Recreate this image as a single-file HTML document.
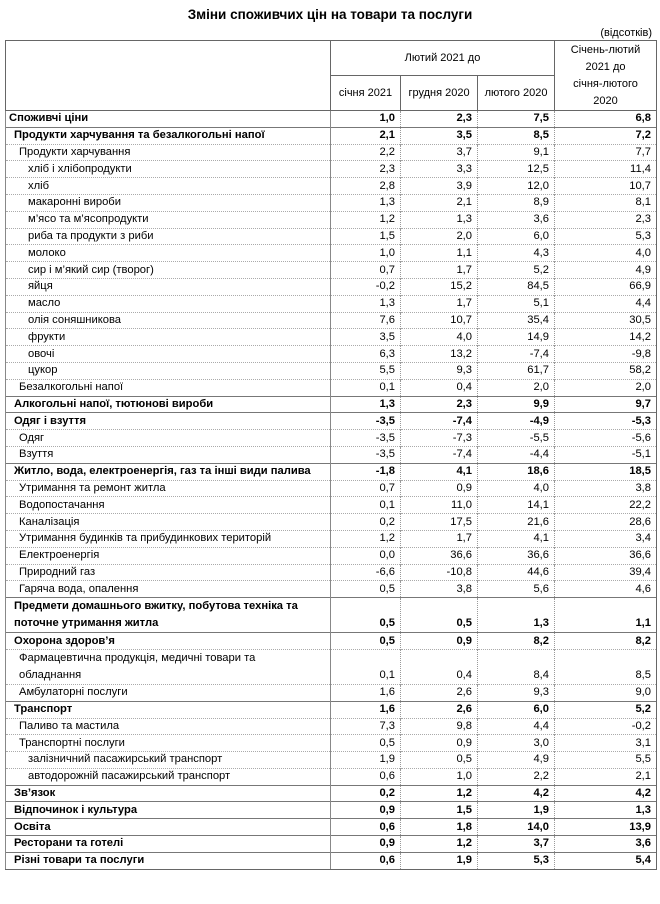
<!DOCTYPE html>
<html><head><meta charset="utf-8"><style>
body{margin:0;background:#fff;width:660px;height:904px;font-family:"Liberation Sans",sans-serif;color:#000;position:relative}
.t{position:absolute;top:7px;left:0;width:660px;text-align:center;font-weight:bold;font-size:13.5px}
.u{position:absolute;top:27px;right:8px;font-size:11px}
table{position:absolute;left:5px;top:40px;border-collapse:collapse;table-layout:fixed;width:651px;font-size:11.2px}
td{padding:0;height:15.8px;line-height:15px;border-left:1px solid #888;border-right:1px solid #888;border-top:1px dotted #aaa;white-space:nowrap;overflow:hidden}
td.n{text-align:right;padding-right:5px;border-left:1px dotted #999;border-right:1px dotted #999}
td.n:last-child{border-right:1px solid #666}
tr.b td{font-weight:bold;border-top:1px solid #777}
tr.d td{height:32.6px;vertical-align:bottom;white-space:nowrap;line-height:17px}
.l0{padding-left:3px}.l1{padding-left:8px}.l2{padding-left:13px}.l3{padding-left:22px}
th{font-weight:normal;border:1px solid #666;text-align:center;line-height:17px;padding:0;font-size:11px}
tr:last-child td{border-bottom:1px solid #666}
</style></head><body>
<div class="t">Зміни споживчих цін на товари та послуги</div>
<div class="u">(відсотків)</div>
<table>
<colgroup><col style="width:325px"><col style="width:70px"><col style="width:77px"><col style="width:77px"><col style="width:102px"></colgroup>
<tr><th rowspan="2" style="height:68px"></th><th colspan="3" style="height:34px">Лютий 2021 до</th><th rowspan="2">Січень-лютий<br>2021 до<br>січня-лютого<br>2020</th></tr>
<tr><th style="height:34px">січня 2021</th><th>грудня 2020</th><th>лютого 2020</th></tr>
<tr class="b"><td class="l0">Споживчі ціни</td><td class="n">1,0</td><td class="n">2,3</td><td class="n">7,5</td><td class="n">6,8</td></tr>
<tr class="b"><td class="l1">Продукти харчування та безалкогольні напої</td><td class="n">2,1</td><td class="n">3,5</td><td class="n">8,5</td><td class="n">7,2</td></tr>
<tr><td class="l2">Продукти харчування</td><td class="n">2,2</td><td class="n">3,7</td><td class="n">9,1</td><td class="n">7,7</td></tr>
<tr><td class="l3">хліб і хлібопродукти</td><td class="n">2,3</td><td class="n">3,3</td><td class="n">12,5</td><td class="n">11,4</td></tr>
<tr><td class="l3">хліб</td><td class="n">2,8</td><td class="n">3,9</td><td class="n">12,0</td><td class="n">10,7</td></tr>
<tr><td class="l3">макаронні вироби</td><td class="n">1,3</td><td class="n">2,1</td><td class="n">8,9</td><td class="n">8,1</td></tr>
<tr><td class="l3">м’ясо та м’ясопродукти</td><td class="n">1,2</td><td class="n">1,3</td><td class="n">3,6</td><td class="n">2,3</td></tr>
<tr><td class="l3">риба та продукти з риби</td><td class="n">1,5</td><td class="n">2,0</td><td class="n">6,0</td><td class="n">5,3</td></tr>
<tr><td class="l3">молоко</td><td class="n">1,0</td><td class="n">1,1</td><td class="n">4,3</td><td class="n">4,0</td></tr>
<tr><td class="l3">сир і м’який сир (творог)</td><td class="n">0,7</td><td class="n">1,7</td><td class="n">5,2</td><td class="n">4,9</td></tr>
<tr><td class="l3">яйця</td><td class="n">-0,2</td><td class="n">15,2</td><td class="n">84,5</td><td class="n">66,9</td></tr>
<tr><td class="l3">масло</td><td class="n">1,3</td><td class="n">1,7</td><td class="n">5,1</td><td class="n">4,4</td></tr>
<tr><td class="l3">олія соняшникова</td><td class="n">7,6</td><td class="n">10,7</td><td class="n">35,4</td><td class="n">30,5</td></tr>
<tr><td class="l3">фрукти</td><td class="n">3,5</td><td class="n">4,0</td><td class="n">14,9</td><td class="n">14,2</td></tr>
<tr><td class="l3">овочі</td><td class="n">6,3</td><td class="n">13,2</td><td class="n">-7,4</td><td class="n">-9,8</td></tr>
<tr><td class="l3">цукор</td><td class="n">5,5</td><td class="n">9,3</td><td class="n">61,7</td><td class="n">58,2</td></tr>
<tr><td class="l2">Безалкогольні напої</td><td class="n">0,1</td><td class="n">0,4</td><td class="n">2,0</td><td class="n">2,0</td></tr>
<tr class="b"><td class="l1">Алкогольні напої, тютюнові вироби</td><td class="n">1,3</td><td class="n">2,3</td><td class="n">9,9</td><td class="n">9,7</td></tr>
<tr class="b"><td class="l1">Одяг і взуття</td><td class="n">-3,5</td><td class="n">-7,4</td><td class="n">-4,9</td><td class="n">-5,3</td></tr>
<tr><td class="l2">Одяг</td><td class="n">-3,5</td><td class="n">-7,3</td><td class="n">-5,5</td><td class="n">-5,6</td></tr>
<tr><td class="l2">Взуття</td><td class="n">-3,5</td><td class="n">-7,4</td><td class="n">-4,4</td><td class="n">-5,1</td></tr>
<tr class="b"><td class="l1">Житло, вода, електроенергія, газ та інші види палива</td><td class="n">-1,8</td><td class="n">4,1</td><td class="n">18,6</td><td class="n">18,5</td></tr>
<tr><td class="l2">Утримання та ремонт житла</td><td class="n">0,7</td><td class="n">0,9</td><td class="n">4,0</td><td class="n">3,8</td></tr>
<tr><td class="l2">Водопостачання</td><td class="n">0,1</td><td class="n">11,0</td><td class="n">14,1</td><td class="n">22,2</td></tr>
<tr><td class="l2">Каналізація</td><td class="n">0,2</td><td class="n">17,5</td><td class="n">21,6</td><td class="n">28,6</td></tr>
<tr><td class="l2">Утримання будинків та прибудинкових територій</td><td class="n">1,2</td><td class="n">1,7</td><td class="n">4,1</td><td class="n">3,4</td></tr>
<tr><td class="l2">Електроенергія</td><td class="n">0,0</td><td class="n">36,6</td><td class="n">36,6</td><td class="n">36,6</td></tr>
<tr><td class="l2">Природний газ</td><td class="n">-6,6</td><td class="n">-10,8</td><td class="n">44,6</td><td class="n">39,4</td></tr>
<tr><td class="l2">Гаряча вода, опалення</td><td class="n">0,5</td><td class="n">3,8</td><td class="n">5,6</td><td class="n">4,6</td></tr>
<tr class="b d"><td class="l1">Предмети домашнього вжитку, побутова техніка та<br>поточне утримання житла</td><td class="n">0,5</td><td class="n">0,5</td><td class="n">1,3</td><td class="n">1,1</td></tr>
<tr class="b"><td class="l1">Охорона здоров’я</td><td class="n">0,5</td><td class="n">0,9</td><td class="n">8,2</td><td class="n">8,2</td></tr>
<tr class="d"><td class="l2">Фармацевтична продукція, медичні товари та<br>обладнання</td><td class="n">0,1</td><td class="n">0,4</td><td class="n">8,4</td><td class="n">8,5</td></tr>
<tr><td class="l2">Амбулаторні послуги</td><td class="n">1,6</td><td class="n">2,6</td><td class="n">9,3</td><td class="n">9,0</td></tr>
<tr class="b"><td class="l1">Транспорт</td><td class="n">1,6</td><td class="n">2,6</td><td class="n">6,0</td><td class="n">5,2</td></tr>
<tr><td class="l2">Паливо та мастила</td><td class="n">7,3</td><td class="n">9,8</td><td class="n">4,4</td><td class="n">-0,2</td></tr>
<tr><td class="l2">Транспортні послуги</td><td class="n">0,5</td><td class="n">0,9</td><td class="n">3,0</td><td class="n">3,1</td></tr>
<tr><td class="l3">залізничний пасажирський транспорт</td><td class="n">1,9</td><td class="n">0,5</td><td class="n">4,9</td><td class="n">5,5</td></tr>
<tr><td class="l3">автодорожній пасажирський транспорт</td><td class="n">0,6</td><td class="n">1,0</td><td class="n">2,2</td><td class="n">2,1</td></tr>
<tr class="b"><td class="l1">Зв’язок</td><td class="n">0,2</td><td class="n">1,2</td><td class="n">4,2</td><td class="n">4,2</td></tr>
<tr class="b"><td class="l1">Відпочинок і культура</td><td class="n">0,9</td><td class="n">1,5</td><td class="n">1,9</td><td class="n">1,3</td></tr>
<tr class="b"><td class="l1">Освіта</td><td class="n">0,6</td><td class="n">1,8</td><td class="n">14,0</td><td class="n">13,9</td></tr>
<tr class="b"><td class="l1">Ресторани та готелі</td><td class="n">0,9</td><td class="n">1,2</td><td class="n">3,7</td><td class="n">3,6</td></tr>
<tr class="b"><td class="l1">Різні товари та послуги</td><td class="n">0,6</td><td class="n">1,9</td><td class="n">5,3</td><td class="n">5,4</td></tr>
</table>
</body></html>
